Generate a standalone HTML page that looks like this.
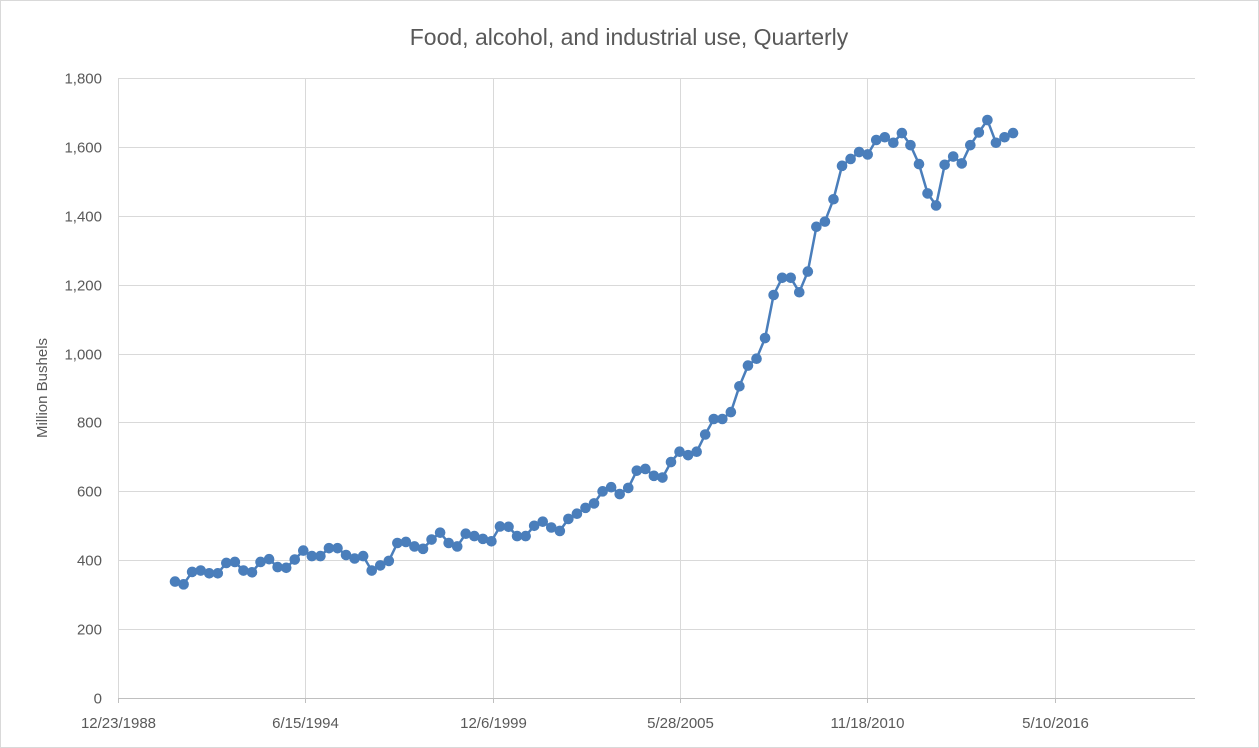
<!DOCTYPE html>
<html><head><meta charset="utf-8"><style>
html,body{margin:0;padding:0;background:#fff;}
svg{display:block;font-family:"Liberation Sans",Arial,sans-serif;}
</style></head><body>
<svg id="chart" width="1259" height="748" viewBox="0 0 1259 748">
<rect x="0.5" y="0.5" width="1258" height="747" fill="#fff" stroke="#d9d9d9"/>
<text x="629" y="45" text-anchor="middle" font-size="23" fill="#595959">Food, alcohol, and industrial use, Quarterly</text>
<text transform="translate(47,388) rotate(-90)" text-anchor="middle" font-size="15" fill="#595959">Million Bushels</text>
<g id="grid"></g><g id="axes"></g><g id="series"></g>
</svg>
<script>
const yTicks=[0,200,400,600,800,1000,1200,1400,1600,1800];
const xTickLabels=["12/23/1988","6/15/1994","12/6/1999","5/28/2005","11/18/2010","5/10/2016"];
const xTickDays=[0,2000,4000,6000,8000,10000];
const firstQuarterDay=609, quarterDays=91.31;
const values=[338,330,366,370,362,362,392,395,370,365,395,403,380,378,402,428,412,412,435,435,415,405,412,370,385,398,450,453,440,433,460,480,450,440,477,470,462,455,498,497,470,470,500,512,495,485,520,535,552,565,600,612,592,610,660,665,645,640,685,715,705,715,765,810,810,830,905,965,985,1045,1170,1220,1220,1178,1238,1368,1383,1448,1545,1565,1585,1578,1620,1628,1612,1640,1605,1550,1465,1430,1548,1572,1552,1605,1642,1678,1612,1628,1640];
const dayIndex=values.map((v,i)=>firstQuarterDay+i*quarterDays);
const X0=118,X1=1195,Y0=698,Y1=78,DMAX=11500,VMAX=1800;
const xs=d=>X0+d/DMAX*(X1-X0), ys=v=>Y0-v/VMAX*(Y0-Y1);
const NS="http://www.w3.org/2000/svg";
function mk(t,a,p){const e=document.createElementNS(NS,t);for(const k in a)e.setAttribute(k,a[k]);p.appendChild(e);return e;}
const grid=document.getElementById('grid'),axes=document.getElementById('axes'),ser=document.getElementById('series');
yTicks.forEach(v=>{
 const y=Math.round(ys(v))+0.5;
 const l=mk('line',{x1:X0,x2:X1,y1:y,y2:y,stroke:v===0?'#bfbfbf':'#d9d9d9','stroke-width':1},grid);
 
 
 const t=mk('text',{x:X0-16,y:y+5,'text-anchor':'end','font-size':15,fill:'#595959'},axes);
 t.textContent=v.toLocaleString('en-US');
 
 
});
xTickDays.forEach((d,i)=>{
 const x=Math.round(xs(d))+0.5;
 const l=mk('line',{x1:x,x2:x,y1:Y1,y2:Y0,stroke:'#d9d9d9','stroke-width':1},grid);
 
 
 const tk=mk('line',{x1:x,x2:x,y1:Y0,y2:Y0+5,stroke:'#bfbfbf'},axes);
 
 
 const t=mk('text',{x:x,y:Y0+30,'text-anchor':'middle','font-size':15,fill:'#595959'},axes);
 t.textContent=xTickLabels[i];
 
 
});
const pts=values.map((v,i)=>xs(dayIndex[i]).toFixed(1)+','+ys(v).toFixed(1)).join(' ');
const pl=mk('polyline',{points:pts,fill:'none',stroke:'#4a7ebb','stroke-width':2.5,'stroke-linejoin':'round'},ser);


values.forEach((v,i)=>{
 const c=mk('circle',{cx:xs(dayIndex[i]),cy:ys(v),r:5.3,fill:'#4a7ebb'},ser);
 
 
});
</script>
</body></html>
